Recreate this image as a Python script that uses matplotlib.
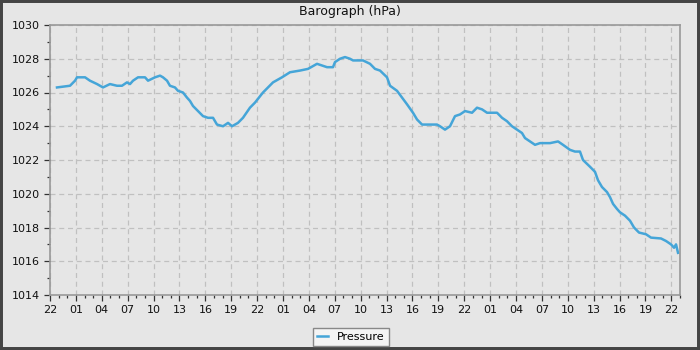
#!/usr/bin/env python3

import matplotlib
matplotlib.use('Agg')
import matplotlib.pyplot as plt
from matplotlib.patches import Rectangle

# hours since the first "22" tick, and pressure (hPa)
hours = [0.81, 2.32, 2.90, 3.13, 4.06, 4.63, 5.45, 6.14, 6.95, 7.76, 8.34, 8.92,
         9.27, 9.62, 10.20, 11.01, 11.36, 12.17, 12.75, 13.09, 13.56, 13.90, 14.48,
         14.83, 15.41, 15.87, 16.22, 16.57, 17.15, 17.73, 18.31, 18.89, 19.35, 20.05,
         20.63, 21.09, 21.78, 22.36, 23.17, 23.75, 24.68, 25.84, 26.88, 27.81, 28.97,
         29.90, 30.94, 32.10, 32.79, 33.02, 33.60, 34.18, 34.76, 35.11, 36.27, 37.08,
         37.66, 38.24, 39.05, 39.40, 40.21, 40.79, 41.37, 42.06, 42.53, 43.11, 44.84,
         45.19, 45.77, 46.35, 46.93, 47.51, 48.09, 48.90, 49.48, 50.06, 50.64, 51.80,
         52.38, 52.95, 53.53, 54.11, 54.69, 55.04, 55.62, 56.20, 56.78, 57.94, 58.87,
         59.44, 60.26, 60.83, 61.41, 61.76, 62.57, 63.15, 63.50, 63.96, 64.54, 64.89,
         65.24, 65.70, 66.05, 66.63, 67.21, 67.67, 68.25, 69.06, 69.64, 70.80, 71.38,
         71.96, 72.31, 72.54, 72.77]
pressure = [1026.3, 1026.4, 1026.7, 1026.9, 1026.9, 1026.7, 1026.5, 1026.3, 1026.5,
            1026.4, 1026.4, 1026.6, 1026.5, 1026.7, 1026.9, 1026.9, 1026.7, 1026.9,
            1027.0, 1026.9, 1026.7, 1026.4, 1026.3, 1026.1, 1026.0, 1025.7, 1025.5,
            1025.2, 1024.9, 1024.6, 1024.5, 1024.5, 1024.1, 1024.0, 1024.2, 1024.0,
            1024.2, 1024.5, 1025.1, 1025.4, 1026.0, 1026.6, 1026.9, 1027.2, 1027.3,
            1027.4, 1027.7, 1027.5, 1027.5, 1027.8, 1028.0, 1028.1, 1028.0, 1027.9,
            1027.9, 1027.7, 1027.4, 1027.3, 1026.9, 1026.4, 1026.1, 1025.7, 1025.3,
            1024.8, 1024.4, 1024.1, 1024.1, 1024.0, 1023.8, 1024.0, 1024.6, 1024.7,
            1024.9, 1024.8, 1025.1, 1025.0, 1024.8, 1024.8, 1024.5, 1024.3, 1024.0,
            1023.8, 1023.6, 1023.3, 1023.1, 1022.9, 1023.0, 1023.0, 1023.1, 1022.9,
            1022.6, 1022.5, 1022.5, 1022.0, 1021.6, 1021.3, 1020.8, 1020.4, 1020.1,
            1019.8, 1019.4, 1019.1, 1018.9, 1018.7, 1018.4, 1018.0, 1017.7, 1017.6,
            1017.4, 1017.35, 1017.2, 1017.0, 1016.8, 1017.0, 1016.5]

tick_hours = list(range(0, 73, 3))
tick_labels = ['22', '01', '04', '07', '10', '13', '16', '19'] * 3 + ['22']

bg = '#e6e6e6'
fig = plt.figure(figsize=(7, 3.5), dpi=100, facecolor=bg)
ax = fig.add_axes([50 / 700, 55 / 350, 630 / 700, 270 / 350], facecolor=bg)

line, = ax.plot(hours, pressure, color='#45a5d8', lw=1.8, label='Pressure')

ax.set_xlim(0, 73)
ax.set_ylim(1014, 1030)
ax.set_xticks(tick_hours)
ax.set_xticklabels(tick_labels)
ax.set_xticks(range(0, 74), minor=True)
ax.set_yticks(range(1014, 1031, 2))
ax.set_yticks(range(1015, 1030, 2), minor=True)

ax.tick_params(which='major', length=4, width=0.9, color='#333333',
               labelsize=8, labelcolor='#111111')
ax.tick_params(which='minor', length=2.5, width=0.9, color='#333333')
for s in ax.spines.values():
    s.set_color('#999999')
    s.set_linewidth(1.2)

ax.grid(True, which='major', color='#c0c0c0', linestyle=(0, (4, 3)), linewidth=0.9)
ax.set_axisbelow(True)

fig.text(0.5, 1 - 12 / 350, 'Barograph (hPa)', ha='center', va='center',
         fontsize=9, color='#111111')

leg = fig.legend(handles=[line], loc='center', bbox_to_anchor=(351 / 700, 1 - 337 / 350),
                 fontsize=8, frameon=True, fancybox=False, handlelength=1.0,
                 borderpad=0.35, handletextpad=0.8, borderaxespad=0)
leg.get_frame().set_facecolor('#f4f4f4')
leg.get_frame().set_edgecolor('#888888')
leg.get_frame().set_linewidth(1.0)
leg.get_frame().set_alpha(1)

# dark frame round the figure
fig.patches.append(Rectangle((0, 0), 1, 1, transform=fig.transFigure, fill=False,
                             edgecolor='#454545', linewidth=4.3, clip_on=False))

fig.savefig('out.png', dpi=100, facecolor=bg)
